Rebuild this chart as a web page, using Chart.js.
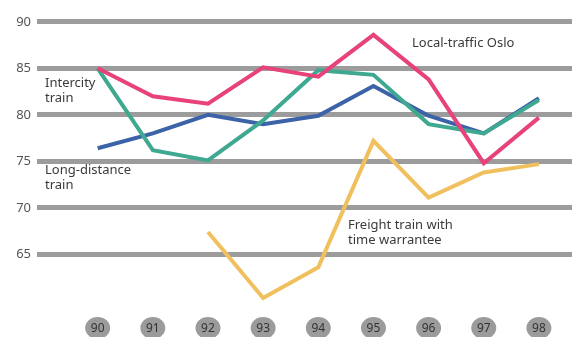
<!DOCTYPE html>
<html>
<head>
<meta charset="utf-8">
<script src="https://cdn.jsdelivr.net/npm/chart.js@4/dist/chart.umd.min.js"></script>
<style>
  html, body { margin: 0; padding: 0; background: #ffffff; }
  #wrap { width: 572px; height: 337px; position: relative; }
</style>
</head>
<body>
<div id="wrap"><canvas id="c"></canvas></div>
<script>
// Punctuality by train category, 1990–1998 (percent)
const years = [90, 91, 92, 93, 94, 95, 96, 97, 98];
const yTicks = [65, 70, 75, 80, 85, 90];

const localOslo   = [85.0, 82.0, 81.2, 85.1, 84.1, 88.6, 83.8, 74.8, 79.7];
const intercity   = [85.0, 76.2, 75.1, 79.4, 84.8, 84.3, 79.0, 78.0, 81.6];
const longDist    = [76.4, 78.0, 80.0, 79.0, 79.9, 83.1, 79.9, 78.0, 81.8];
const freightTime = [null, null, 67.4, 60.3, 63.6, 77.2, 71.1, 73.8, 74.7];

const FONT = '"Noto Sans", "DejaVu Sans", sans-serif';

function pts(vals) {
  return years.map((yr, i) => ({ x: yr, y: vals[i] }));
}

// Gray discs behind the year labels
const yearDiscs = {
  id: 'yearDiscs',
  beforeDraw(chart) {
    const { ctx, scales } = chart;
    const xs = scales.x;
    ctx.save();
    ctx.fillStyle = '#9b9b9b';
    years.forEach(yr => {
      const px = xs.getPixelForValue(yr);
      ctx.beginPath();
      ctx.ellipse(px, 328, 12.5, 11, 0, 0, Math.PI * 2);
      ctx.fill();
    });
    ctx.restore();
  }
};

// Series names written next to their lines
const seriesNotes = {
  id: 'seriesNotes',
  afterDraw(chart) {
    const ctx = chart.ctx;
    ctx.save();
    ctx.fillStyle = '#3a3a3a';
    ctx.font = '13px ' + FONT;
    ctx.textBaseline = 'middle';
    ctx.textAlign = 'left';
    const notes = [
      ['Local-traffic Oslo', 412, 43],
      ['Intercity', 45, 83],
      ['train', 45, 98],
      ['Long-distance', 45, 170],
      ['train', 45, 185],
      ['Freight train with', 348, 225],
      ['time warrantee', 348, 240]
    ];
    notes.forEach(([t, x, y]) => ctx.fillText(t, x, y));
    ctx.restore();
  }
};

const line = (label, vals, color) => ({
  label,
  data: pts(vals),
  borderColor: color,
  backgroundColor: color,
  borderWidth: 4,
  pointRadius: 0,
  tension: 0,
  spanGaps: false,
  borderJoinStyle: 'miter',
  borderCapStyle: 'butt'
});

new Chart(document.getElementById('c'), {
  type: 'line',
  data: {
    datasets: [
      line('Freight train with time warrantee', freightTime, '#f1c05e'),
      line('Local-traffic Oslo', localOslo, '#e8427a'),
      line('Intercity train', intercity, '#3fa891'),
      line('Long-distance train', longDist, '#3c63a8')
    ]
  },
  options: {
    responsive: true,
    maintainAspectRatio: false,
    animation: false,
    layout: { padding: 0 },
    plugins: {
      legend: { display: false },
      tooltip: { enabled: false }
    },
    scales: {
      x: {
        type: 'linear',
        min: 88.9,
        max: 98.6,
        afterBuildTicks(scale) { scale.ticks = years.map(v => ({ value: v })); },
        afterFit(scale) { scale.height = 25; },
        grid: { display: false, drawTicks: false },
        border: { display: false },
        ticks: {
          padding: 9,
          color: '#333333',
          font: { family: FONT, size: 12 },
          callback: v => String(v),
          maxRotation: 0,
          autoSkip: false
        }
      },
      y: {
        min: 58.8,
        max: 90.86,
        afterBuildTicks(scale) { scale.ticks = yTicks.map(v => ({ value: v })); },
        afterFit(scale) { scale.width = 37; },
        grid: { color: '#9c9c9c', lineWidth: 5, drawTicks: false },
        border: { display: false },
        ticks: {
          padding: 6,
          color: '#555555',
          font: { family: FONT, size: 13 },
          callback: v => String(v)
        }
      }
    }
  },
  plugins: [yearDiscs, seriesNotes]
});
</script>
</body>
</html>
